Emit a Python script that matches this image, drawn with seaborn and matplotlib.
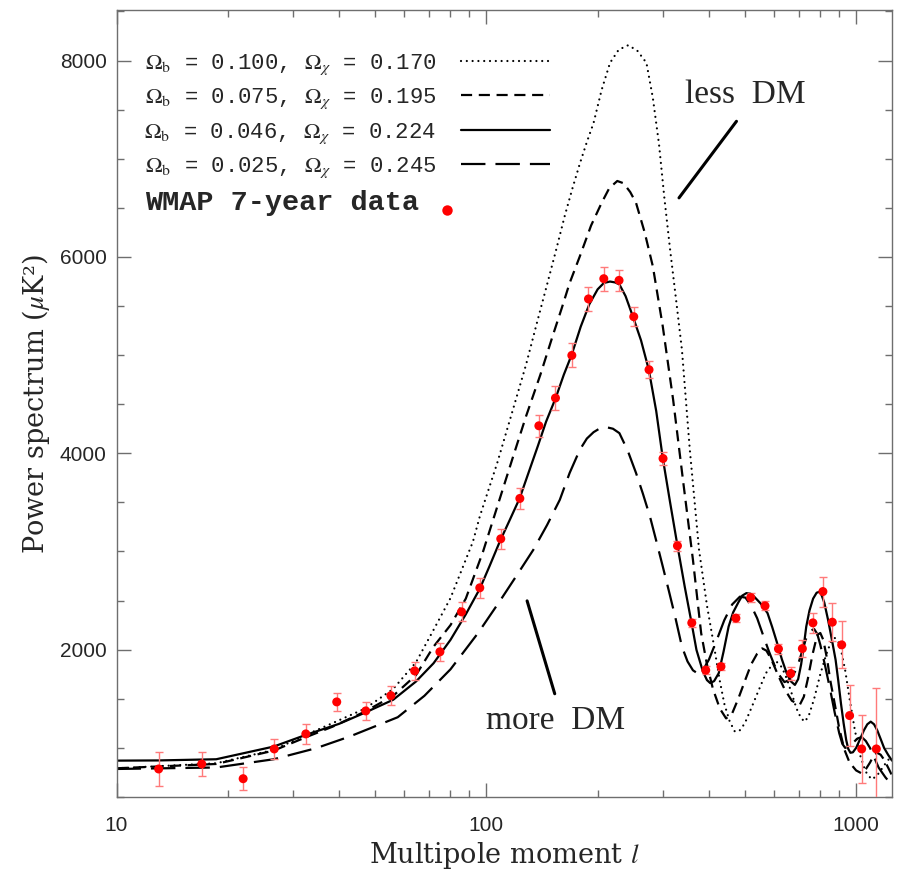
import numpy as np
import pandas as pd
import matplotlib
matplotlib.use("Agg")
import matplotlib.pyplot as plt
import matplotlib.ticker as ticker
from matplotlib.lines import Line2D
from matplotlib.legend_handler import HandlerBase
import seaborn as sns

# model spectra (multipole l, power in uK^2)
ell_b100 = [10, 18.6, 26.6, 32.5, 39.2, 47, 56, 64.5, 72, 80, 92, 96, 107, 118, 128, 137, 146, 154.5, 163, 171,
            179, 187, 195, 205, 216, 228, 242, 256, 271, 282, 293, 303, 314, 326, 338, 355, 376, 395, 413, 427,
            440, 455, 470, 485, 500, 520, 540, 570, 605, 630, 650, 670, 690, 710, 727, 745, 770, 800, 830, 855,
            875, 895, 910, 935, 960, 990, 1020, 1060, 1100, 1135, 1170, 1210, 1250]
cl_b100 = [792, 843, 979, 1132, 1267, 1400, 1600, 1870, 2202, 2525, 3100, 3356, 3900, 4444, 4900, 5327, 5720,
           6074, 6420, 6700, 6950, 7170, 7365, 7700, 7976, 8110, 8156, 8100, 7976, 7620, 7150, 6600, 6074, 5560,
           5055, 4036, 3017, 2450, 2031, 1700, 1450, 1270, 1165, 1180, 1250, 1400, 1550, 1760, 1890, 1820, 1700,
           1550, 1400, 1300, 1267, 1330, 1500, 1750, 1950, 2080, 2120, 2080, 2000, 1780, 1500, 1200, 950, 760,
           680, 710, 780, 860, 920]

ell_b075 = [10, 18.6, 26.6, 32.5, 38.4, 47, 56, 64.5, 72, 80, 88, 98, 108.5, 118, 128, 140, 151, 160, 168, 179,
            192, 205, 215, 226, 235, 245, 254, 268, 282, 300, 320, 341, 362, 381, 395, 410, 428, 445, 462, 480,
            500, 520, 540, 557, 572, 590, 615, 640, 670, 704, 722, 740, 762, 785, 800, 815, 835, 850, 875, 900,
            930, 960, 1000, 1035, 1065, 1090, 1115, 1140, 1165, 1190, 1220, 1250]
cl_b075 = [792, 836, 972, 1108, 1216, 1370, 1530, 1740, 2031, 2250, 2520, 3000, 3526, 3960, 4375, 4800, 5190,
           5480, 5734, 6006, 6320, 6550, 6700, 6773, 6750, 6660, 6550, 6250, 5904, 5292, 4545, 3697, 2915, 2168,
           1850, 1600, 1400, 1300, 1350, 1500, 1680, 1850, 1960, 2013, 1990, 1900, 1740, 1600, 1480, 1438, 1520,
           1700, 1950, 2150, 2170, 2100, 1900, 1700, 1450, 1200, 980, 850, 770, 740, 790, 850, 920, 950, 930,
           880, 800, 720]

ell_b046 = [10, 13, 18.6, 26.6, 32.5, 40, 47, 56, 64.5, 72, 80, 88, 96, 102, 109, 116, 123, 130, 138, 145, 154,
            162, 170, 180, 190, 200, 208, 216, 223, 229, 238, 249, 262, 275, 288, 300, 314, 329, 344, 359, 370,
            385, 395, 403, 413, 425, 438, 452, 465, 480, 492, 505, 518, 530, 552, 576, 593, 610, 630, 649, 665,
            683, 697, 710, 722, 733, 748, 765, 782, 800, 820, 840, 860, 880, 895, 910, 925, 940, 952, 965, 980,
            1000, 1025, 1050, 1072, 1095, 1118, 1140, 1165, 1190, 1220, 1250]
cl_b046 = [870, 872, 884, 1013, 1132, 1245, 1359, 1490, 1675, 1862, 2100, 2360, 2620, 2850, 3110, 3330, 3540,
           3800, 4080, 4320, 4563, 4800, 5000, 5290, 5520, 5670, 5735, 5749, 5740, 5720, 5600, 5394, 5150, 4851,
           4430, 3951, 3500, 3051, 2640, 2270, 1998, 1780, 1690, 1660, 1680, 1760, 1980, 2235, 2380, 2480, 2550,
           2576, 2570, 2540, 2470, 2372, 2230, 2080, 1900, 1760, 1680, 1641, 1700, 1850, 2040, 2235, 2400, 2520,
           2580, 2592, 2480, 2300, 2100, 1896, 1680, 1450, 1250, 1080, 990, 950, 955, 1000, 1090, 1180, 1240,
           1267, 1240, 1180, 1090, 1000, 930, 870]

ell_b025 = [10, 18.6, 26.6, 34.6, 42.6, 57.6, 68, 80, 95, 109, 121, 134, 146, 158, 168, 179, 187, 195, 203, 211,
            220, 229, 241, 254, 265, 277, 288, 300, 312, 324, 338, 350, 362, 372, 385, 400, 420, 440, 462, 485,
            502, 520, 540, 560, 580, 600, 620, 640, 660, 690, 710, 730, 750, 770, 785, 800, 825, 850, 875, 900,
            918, 934, 955, 980, 1008, 1035, 1062, 1090, 1120, 1150, 1200, 1250]
cl_b025 = [785, 800, 884, 996, 1114, 1312, 1530, 1800, 2170, 2500, 2760, 3017, 3270, 3526, 3800, 4036, 4150,
           4215, 4255, 4266, 4250, 4205, 4030, 3799, 3590, 3356, 3110, 2847, 2590, 2337, 2031, 1880, 1790, 1760,
           1790, 1900, 2100, 2300, 2460, 2540, 2530, 2450, 2320, 2150, 1990, 1850, 1740, 1670, 1690, 1800, 1950,
           2100, 2190, 2210, 2160, 2050, 1830, 1600, 1360, 1150, 1040, 1000, 1010, 1050, 1095, 1110, 1070, 1000,
           900, 800, 700, 620]

# WMAP 7-year binned points
ell_wmap = [13, 17, 22, 26.7, 32.5, 39.4, 47.2, 55.2, 64, 74.9, 85.7, 96, 109.4, 123.2, 138.7, 153.8, 170.3,
            188.9, 207.8, 228.5, 250.4, 275.4, 300.5, 328.7, 359.4, 392, 431, 473, 518.7, 567, 616.5, 665.5,
            715.5, 764, 813, 862, 914, 960, 1035, 1134]
cl_wmap = [785, 836, 686, 989, 1142, 1468, 1376, 1532, 1784, 1978, 2385, 2630, 3129, 3540, 4280, 4563, 4997,
           5572, 5778, 5761, 5391, 4851, 3947, 3058, 2273, 1791, 1828, 2321, 2531, 2446, 2008, 1757, 2011, 2273,
           2592, 2280, 2049, 1329, 989, 989]
err_wmap = [170, 120, 115, 105, 102, 93, 92, 97, 90, 92, 97, 102, 100, 110, 114, 122, 122, 120, 124, 110, 97,
            85, 65, 50, 40, 40, 40, 42, 45, 46, 51, 65, 85, 105, 153, 195, 238, 314, 348, 620]

labels = [r"$\Omega_{\rm b}$ = 0.100, $\Omega_{\chi}$ = 0.170",
          r"$\Omega_{\rm b}$ = 0.075, $\Omega_{\chi}$ = 0.195",
          r"$\Omega_{\rm b}$ = 0.046, $\Omega_{\chi}$ = 0.224",
          r"$\Omega_{\rm b}$ = 0.025, $\Omega_{\chi}$ = 0.245",
          "WMAP 7-year data "]

sns.set_style("ticks")
plt.rcParams["font.family"] = ["Liberation Sans", "DejaVu Sans"]
plt.rcParams["mathtext.fontset"] = "stix"

fig = plt.figure(figsize=(8.97, 8.69), dpi=100)
ax = fig.add_axes([0.1299, 0.0829, 0.8645, 0.9051])
ax.set_xscale("log")

styles = [(0, (0.01, 2.6)), (0, (5, 3)), "-", (0, (11, 4.5))]
curves = [(ell_b100, cl_b100), (ell_b075, cl_b075), (ell_b046, cl_b046), (ell_b025, cl_b025)]
handles = []
for (ell, cl), ls in zip(curves, styles):
    cap = "round" if ls == styles[0] else "butt"
    sns.lineplot(x=ell, y=cl, ax=ax, color="black", lw=1.6, linestyle=ls, dash_capstyle=cap,
                 sort=False, zorder=2)
    handles.append(Line2D([], [], color="black", lw=1.6, linestyle=ls, dash_capstyle=cap))

ax.errorbar(ell_wmap, cl_wmap, yerr=err_wmap, fmt="none", ecolor="#ff7a7a", elinewidth=1.0,
            capsize=3, capthick=1.0, zorder=3)
sns.scatterplot(x=ell_wmap, y=cl_wmap, ax=ax, color="#ff0000", s=42, edgecolor="none", zorder=4)

# annotations
ax.plot([474.7, 331.9], [7381, 6601], color="black", lw=2.2)
ax.plot([128.9, 153.1], [2497, 1551], color="black", lw=2.2)
ax.text(500, 7653, "less  DM", fontsize=24, family="Liberation Serif", ha="center", va="center")
ax.text(153.6, 1277, "more  DM", fontsize=24, family="Liberation Serif", ha="center", va="center")


class LeftDot(HandlerBase):
    def create_artists(self, legend, orig_handle, xdescent, ydescent, width, height, fontsize, trans):
        dot = Line2D([-xdescent - 0.6 * fontsize], [height / 2 - ydescent - 0.35 * fontsize],
                     marker="o", ms=7.5, color="#ff0000", ls="none", markeredgewidth=0, transform=trans)
        return [dot]


wmap_handle = Line2D([], [], marker="o", color="#ff0000", ls="none")
leg = ax.legend(handles + [wmap_handle], labels, loc="upper left", bbox_to_anchor=(0.036, 0.947),
                frameon=False, markerfirst=False, handlelength=4.0, handletextpad=1.1,
                labelspacing=0.45, borderpad=0, borderaxespad=0, handler_map={wmap_handle: LeftDot()},
                prop={"family": "Liberation Mono", "size": 16})
wt = leg.get_texts()[4]
wt.set_weight("bold")
wt.set_fontsize(20.5)

ax.set_xlim(10, 1250)
ax.set_ylim(500, 8510)
ax.yaxis.set_major_locator(ticker.MultipleLocator(2000))
ax.yaxis.set_minor_locator(ticker.MultipleLocator(500))
ax.xaxis.set_major_locator(ticker.LogLocator(base=10))
ax.xaxis.set_minor_locator(ticker.LogLocator(base=10, subs=np.arange(2, 10)))
ax.xaxis.set_major_formatter(ticker.FuncFormatter(lambda v, p: f"{v:g}"))
ax.xaxis.set_minor_formatter(ticker.NullFormatter())

ax.tick_params(which="both", direction="in", top=True, right=True, color="#6e6e6e", width=1)
ax.tick_params(which="major", length=10, labelsize=15)
ax.tick_params(which="minor", length=5)
ax.tick_params(axis="x", which="major", pad=14)
ax.tick_params(axis="y", which="major", pad=7)
for s in ax.spines.values():
    s.set_color("#6e6e6e")
    s.set_linewidth(1)

ax.set_xlabel("Multipole moment $l$", fontsize=19.5, family="DejaVu Serif", labelpad=3)
ax.set_ylabel("Power spectrum ($\\mu$K²)", fontsize=19.5, family="DejaVu Serif", labelpad=6)

fig.savefig("out.png", dpi=100)
